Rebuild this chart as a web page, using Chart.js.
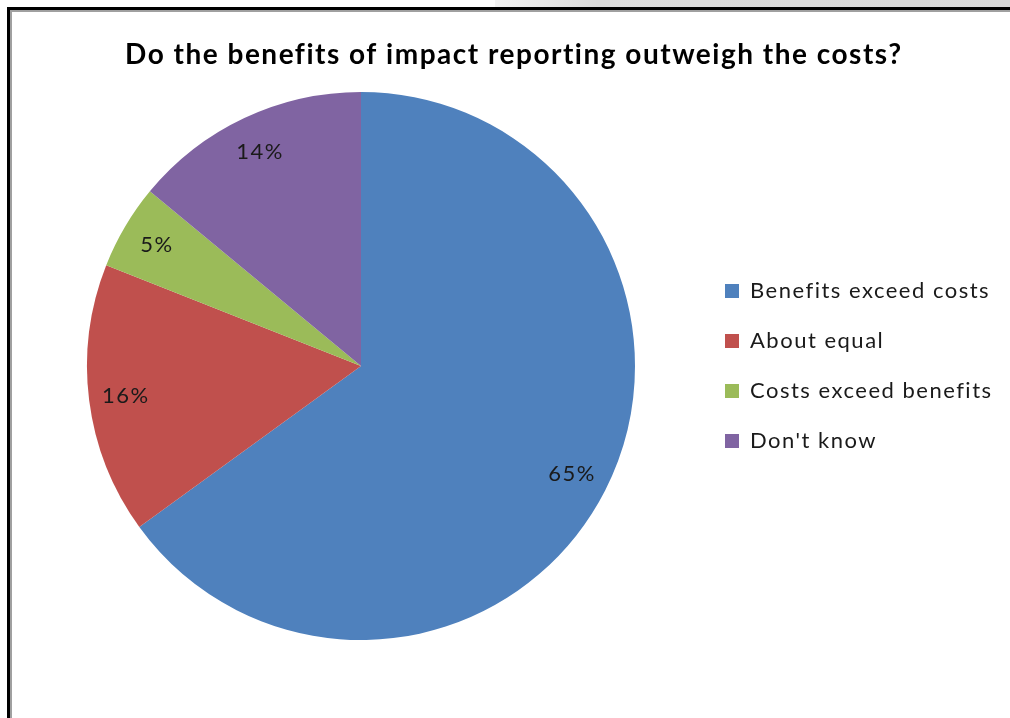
<!DOCTYPE html>
<html>
<head>
<meta charset="utf-8">
<script src="https://cdn.jsdelivr.net/npm/chart.js@4.4.1/dist/chart.umd.min.js"></script>
<style>
  html, body { margin: 0; padding: 0; background: #fff; width: 1010px; height: 718px; overflow: hidden; position: relative; }
  #topgray { position: absolute; left: 495px; top: 0; width: 515px; height: 7px; background: linear-gradient(to right, #f4f4f4 0%, #dcdcdc 20%, #d8d8d8 100%); }
  #frame { position: absolute; left: 7px; top: 7px; width: 1010px; height: 720px; border-left: 3px solid #000; border-top: 3px solid #000; }
  #frame2 { position: absolute; left: 10px; top: 10px; width: 1010px; height: 720px; border-left: 2px solid #a0a0a0; border-top: 2px solid #a0a0a0; }
  #c { position: absolute; left: 0; top: 0; }
</style>
</head>
<body>
<div id="topgray"></div>
<div id="frame"></div>
<div id="frame2"></div>
<canvas id="c" width="1030" height="718"></canvas>
<script>
const titleText = "Do the benefits of impact reporting outweigh the costs?";
const categories = ["Benefits exceed costs", "About equal", "Costs exceed benefits", "Don't know"];
const values = [65, 16, 5, 14];
const colors = ["#4F81BD", "#C0504D", "#9BBB59", "#8064A2"];

const FONT = "Lato, 'Open Sans', sans-serif";
const SPACING = "1.5px";
const legendFontSize = 22;
const legendPad = 28;
const boxW = 14;
const canvasW = 1030;
const legendLeft = 725 - legendPad;
const pieCenterX = 361;

// measure longest legend text to place legend
const mctx = document.createElement('canvas').getContext('2d');
mctx.font = legendFontSize + "px " + FONT;
try { mctx.letterSpacing = SPACING; } catch (e) {}
let maxTW = 0;
categories.forEach(t => { maxTW = Math.max(maxTW, mctx.measureText(t).width); });
const legendWidth = legendPad + boxW + legendFontSize / 2 + maxTW + 10;
const padRight = Math.max(0, canvasW - legendLeft - legendWidth);
const padLeft = 2 * pieCenterX - legendLeft;

const spacingPlugin = {
  id: 'spacing',
  afterInit(chart) { chart.ctx.letterSpacing = SPACING; },
  beforeLayout(chart) { chart.ctx.letterSpacing = SPACING; },
  beforeDraw(chart) { chart.ctx.letterSpacing = SPACING; }
};

const labelPlugin = {
  id: 'pctLabels',
  afterDatasetsDraw(chart) {
    const ctx = chart.ctx;
    const meta = chart.getDatasetMeta(0);
    ctx.save();
    ctx.font = "22px " + FONT;
    ctx.letterSpacing = SPACING;
    ctx.fillStyle = "#1a1a1a";
    ctx.textAlign = "center";
    ctx.textBaseline = "middle";
    meta.data.forEach((arc, i) => {
      const p = arc.getProps(['x', 'y', 'startAngle', 'endAngle', 'outerRadius'], true);
      const mid = (p.startAngle + p.endAngle) / 2;
      const r = p.outerRadius * 0.865;
      ctx.fillText(values[i] + "%", p.x + Math.cos(mid) * r, p.y + Math.sin(mid) * r);
    });
    ctx.restore();
  }
};

new Chart(document.getElementById('c'), {
  type: 'pie',
  data: {
    labels: categories,
    datasets: [{ data: values, backgroundColor: colors, borderWidth: 0 }]
  },
  options: {
    responsive: false,
    animation: false,
    devicePixelRatio: 1,
    layout: { padding: { left: padLeft, right: padRight, top: 0, bottom: 78 } },
    plugins: {
      tooltip: { enabled: false },
      title: {
        display: true,
        text: titleText,
        color: "#000",
        font: { family: FONT, size: 28, weight: 'bold', lineHeight: 1.2 },
        padding: { top: 38, bottom: 20.4 }
      },
      legend: {
        position: 'right',
        fullSize: false,
        align: 'center',
        labels: {
          color: "#1a1a1a",
          font: { family: FONT, size: legendFontSize },
          boxWidth: boxW,
          boxHeight: boxW,
          padding: legendPad
        }
      }
    }
  },
  plugins: [spacingPlugin, labelPlugin]
});
</script>
</body>
</html>
